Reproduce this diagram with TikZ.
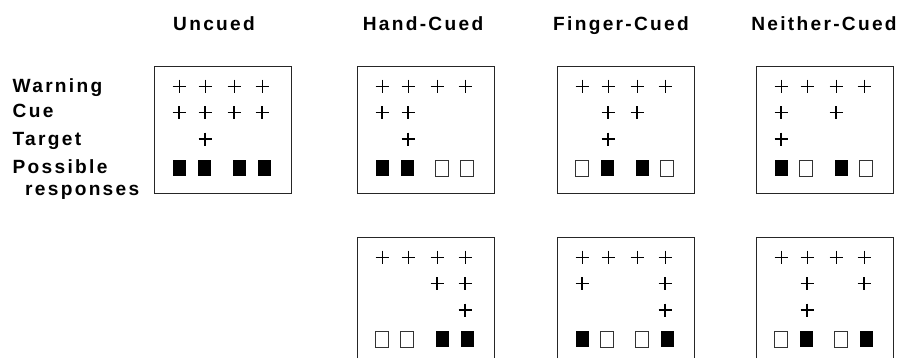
\documentclass[tikz,border=0pt]{standalone}
\usepackage{fontspec}
\newfontfamily\labelfont[LetterSpace=12]{Liberation Sans}

% one plus sign, centred at (#2,#3)
\newcommand{\plusmark}[3]{\draw[#1] (#2,#3) ++(-6.5,0) -- ++(13,0) (#2,#3) ++(0,-6.5) -- ++(0,13);}
% one response square, centred at (#2,#3)
\newcommand{\respsq}[3]{\path[#1] (#2,#3) ++(-6.5,-8) rectangle ++(13,16);}
% marks of one panel: left, top, cue columns, target column, responses
\newcommand{\trialmarks}[5]{%
  \foreach \c in {1,...,4} {
    \pgfmathsetmacro\cx{#1+{25,51,80,108}[\c-1]}
    \plusmark{warnmark}{\cx}{#2+20}
  }
  \foreach \c in {#3} {
    \pgfmathsetmacro\cx{#1+{25,51,80,108}[\c-1]}
    \plusmark{cuemark}{\cx}{#2+46.5}
  }
  \pgfmathsetmacro\cx{#1+{25,51,80,108}[#4-1]}
  \plusmark{targmark}{\cx}{#2+73}
  \foreach \c/\f in {#5} {
    \pgfmathsetmacro\cx{#1+{25,50,85,110}[\c-1]}
    \respsq{resp \f}{\cx}{#2+102}
  }
}

\begin{document}
\begin{tikzpicture}[x=1bp, y=-1bp,
  every node/.style={font=\fontsize{19.2}{22}\selectfont\labelfont\bfseries, inner sep=0pt},
  frame/.style={line width=0.8bp, draw=black!85},
  warnmark/.style={line width=0.9bp},
  cuemark/.style={line width=1.7bp},
  targmark/.style={line width=1.1bp},
  resp on/.style={fill=black},
  resp off/.style={draw=black!80, line width=0.8bp, fill=white}]

  \useasboundingbox (0,0) rectangle (900,358);

  % 1. column headings
  \node[anchor=base] (hdUncued)  at (214,30) {Uncued};
  \node[anchor=base] (hdHand)    at (423,30) {Hand-Cued};
  \node[anchor=base] (hdFinger)  at (621,30) {Finger-Cued};
  \node[anchor=base] (hdNeither) at (824,30) {Neither-Cued};

  % 2. row labels
  \node[anchor=base west] (lbWarning)  at (12.5,92)  {Warning};
  \node[anchor=base west] (lbCue)      at (12.5,117) {Cue};
  \node[anchor=base west] (lbTarget)   at (12.5,145) {Target};
  \node[anchor=base west] (lbPossible) at (12.5,173) {Possible};
  \node[anchor=base west] (lbResp)     at (25,195)   {responses};

  % 3. frames (top row closed, bottom row runs off the page)
  \draw[frame] (154,66) rectangle (291,193);
  \draw[frame] (357,66) rectangle (494,193);
  \draw[frame] (557,66) rectangle (694,193);
  \draw[frame] (756,66) rectangle (893,193);
  \draw[frame] (357,358) -- (357,237) -- (494,237) -- (494,358);
  \draw[frame] (557,358) -- (557,237) -- (694,237) -- (694,358);
  \draw[frame] (756,358) -- (756,237) -- (893,237) -- (893,358);

  % 4. panel contents
  \trialmarks{154}{66}{1,2,3,4}{2}{1/on,2/on,3/on,4/on}
  \trialmarks{357}{66}{1,2}{2}{1/on,2/on,3/off,4/off}
  \trialmarks{557}{66}{2,3}{2}{1/off,2/on,3/on,4/off}
  \trialmarks{756}{66}{1,3}{1}{1/on,2/off,3/on,4/off}
  \trialmarks{357}{237}{3,4}{4}{1/off,2/off,3/on,4/on}
  \trialmarks{557}{237}{1,4}{4}{1/on,2/off,3/off,4/on}
  \trialmarks{756}{237}{2,4}{2}{1/off,2/on,3/off,4/on}

\end{tikzpicture}
\end{document}
